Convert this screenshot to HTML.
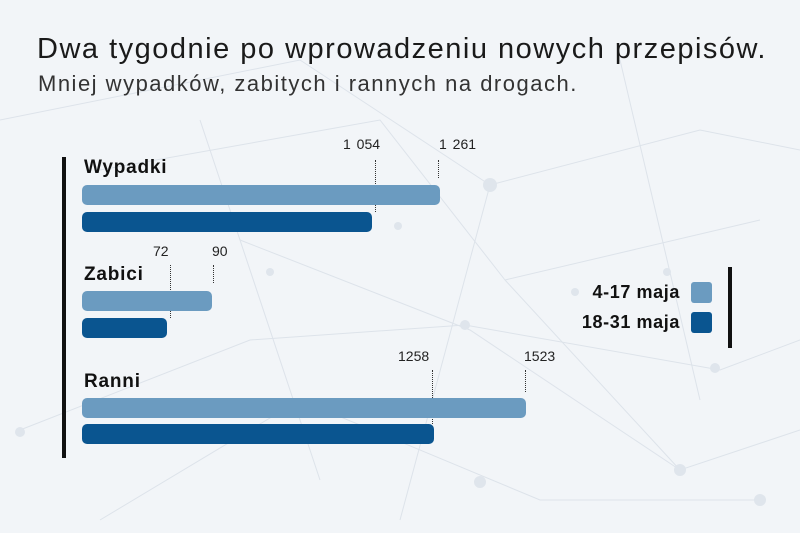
<!DOCTYPE html>
<html><head><meta charset="utf-8"><style>
html,body{margin:0;padding:0}
body{width:800px;height:533px;background:#f2f5f8;position:relative;overflow:hidden;font-family:"Liberation Sans","DejaVu Sans",sans-serif;color:#1a1a1a}
.a{position:absolute}
.bar{position:absolute;border-radius:5px;height:20px}
.l{background:#6b9bc0}.d{background:#0a5590}
.dot{position:absolute;width:0;border-left:1px dotted #333}
.num{position:absolute;font-size:14px;color:#222}
.lab{position:absolute;font-size:19px;font-weight:bold;color:#111;letter-spacing:0.8px}
.leg{position:absolute;font-size:18px;font-weight:bold;color:#111;letter-spacing:0.6px;text-align:right;width:200px}
</style></head><body>
<svg class="a" style="left:0;top:0" width="800" height="533">
<g stroke="#dde3ea" stroke-width="1" fill="none">
<path d="M0 120 L300 60 L490 185 L700 130 L800 150"/>
<path d="M100 170 L380 120 L505 280 L760 220"/>
<path d="M20 430 L250 340 L465 325 L720 370 L800 340"/>
<path d="M240 240 L470 330 L680 470 L800 430"/>
<path d="M100 520 L300 400 L540 500 L760 500"/>
<path d="M490 185 L400 520 M505 280 L680 470 M620 60 L700 400 M200 120 L320 480"/>
</g>
<g fill="#dfe5ec">
<circle cx="490" cy="185" r="7"/><circle cx="398" cy="226" r="4"/><circle cx="270" cy="272" r="4"/>
<circle cx="465" cy="325" r="5"/><circle cx="715" cy="368" r="5"/><circle cx="20" cy="432" r="5"/>
<circle cx="680" cy="470" r="6"/><circle cx="760" cy="500" r="6"/><circle cx="575" cy="292" r="4"/>
<circle cx="667" cy="272" r="4"/><circle cx="480" cy="482" r="6"/>
</g>
</svg>
<div class="a" style="left:37px;top:33px;font-size:29px;letter-spacing:1.5px;color:#1a1a1a;white-space:nowrap">Dwa tygodnie po wprowadzeniu nowych przepisów.</div>
<div class="a" style="left:38px;top:71px;font-size:22px;letter-spacing:1.5px;color:#333;white-space:nowrap">Mniej wypadków, zabitych i rannych na drogach.</div>
<div class="a" style="left:62px;top:157px;width:4px;height:301px;background:#111"></div>
<div class="a" style="left:728px;top:267px;width:4px;height:81px;background:#111"></div>

<div class="lab" style="left:84px;top:157px">Wypadki</div>
<div class="num" style="left:343px;top:136px;word-spacing:2px">1 054</div>
<div class="num" style="left:439px;top:136px;word-spacing:2px">1 261</div>
<div class="dot" style="left:375px;top:160px;height:52px"></div>
<div class="dot" style="left:438px;top:160px;height:18px"></div>
<div class="bar l" style="left:82px;top:185px;width:358px"></div>
<div class="bar d" style="left:82px;top:212px;width:290px"></div>

<div class="lab" style="left:84px;top:264px">Zabici</div>
<div class="num" style="left:153px;top:243px">72</div>
<div class="num" style="left:212px;top:243px">90</div>
<div class="dot" style="left:170px;top:265px;height:53px"></div>
<div class="dot" style="left:213px;top:265px;height:18px"></div>
<div class="bar l" style="left:82px;top:291px;width:130px"></div>
<div class="bar d" style="left:82px;top:318px;width:85px"></div>

<div class="lab" style="left:84px;top:371px">Ranni</div>
<div class="num" style="left:398px;top:348px">1258</div>
<div class="num" style="left:524px;top:348px">1523</div>
<div class="dot" style="left:432px;top:370px;height:54px"></div>
<div class="dot" style="left:525px;top:370px;height:22px"></div>
<div class="bar l" style="left:82px;top:398px;width:444px"></div>
<div class="bar d" style="left:82px;top:424px;width:352px"></div>

<div class="leg" style="left:480px;top:282px">4-17 maja</div>
<div class="leg" style="left:480px;top:312px">18-31 maja</div>
<div class="a l" style="left:691px;top:282px;width:21px;height:21px;border-radius:3px"></div>
<div class="a d" style="left:691px;top:312px;width:21px;height:21px;border-radius:3px"></div>
</body></html>
